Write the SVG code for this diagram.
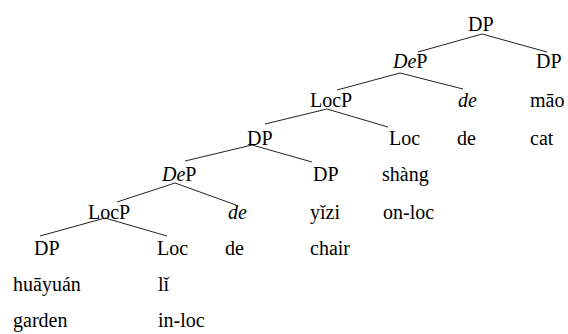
<svg xmlns="http://www.w3.org/2000/svg" width="568" height="334" viewBox="0 0 568 334">
<style>
text{font-family:'Liberation Serif',serif;font-size:20px;fill:#000}
.i{font-style:italic}
line{stroke:#222;stroke-width:1}
</style>
<rect width="568" height="334" fill="#fff"/>
<g id="connectors">
<line x1="482" y1="34" x2="418" y2="52"/>
<line x1="482" y1="34" x2="547" y2="52"/>
<line x1="400" y1="73" x2="337" y2="90"/>
<line x1="400" y1="73" x2="463" y2="89"/>
<line x1="327" y1="109" x2="265" y2="124"/>
<line x1="327" y1="109" x2="388" y2="127"/>
<line x1="252" y1="145" x2="185" y2="161"/>
<line x1="252" y1="145" x2="312" y2="162"/>
<line x1="175" y1="183" x2="117" y2="202"/>
<line x1="175" y1="183" x2="236" y2="205"/>
<line x1="105" y1="218" x2="40" y2="236"/>
<line x1="105" y1="218" x2="167" y2="236"/>
</g>
<g id="n-dp1"><text x="468" y="31">DP</text></g>
<g id="n-dep1"><text x="393" y="68"><tspan class="i">De</tspan>P</text></g>
<g id="n-dp-cat"><text x="536" y="68">DP</text></g>
<g id="n-locp1"><text x="310" y="107">LocP</text></g>
<g id="n-de1"><text class="i" x="458" y="107">de</text></g>
<g id="n-mao"><text x="530" y="107">m&#x101;o</text><text x="530" y="145">cat</text></g>
<g id="n-de1-gloss"><text x="457" y="145">de</text></g>
<g id="n-dp2"><text x="247" y="145">DP</text></g>
<g id="n-loc1"><text x="389" y="145">Loc</text><text x="382" y="181">sh&#xE0;ng</text><text x="383" y="219">on-loc</text></g>
<g id="n-dep2"><text x="162" y="181"><tspan class="i">De</tspan>P</text></g>
<g id="n-dp-chair"><text x="313" y="181">DP</text><text x="310" y="219">y&#x1D0;zi</text><text x="310" y="255">chair</text></g>
<g id="n-locp2"><text x="88" y="219">LocP</text></g>
<g id="n-de2"><text class="i" x="228" y="219">de</text><text x="225" y="255">de</text></g>
<g id="n-dp-garden"><text x="34" y="255">DP</text><text x="13" y="291">hu&#x101;yu&#xE1;n</text><text x="13" y="327">garden</text></g>
<g id="n-loc2"><text x="157" y="255">Loc</text><text x="158" y="291">l&#x1D0;</text><text x="158" y="327">in-loc</text></g>
</svg>
